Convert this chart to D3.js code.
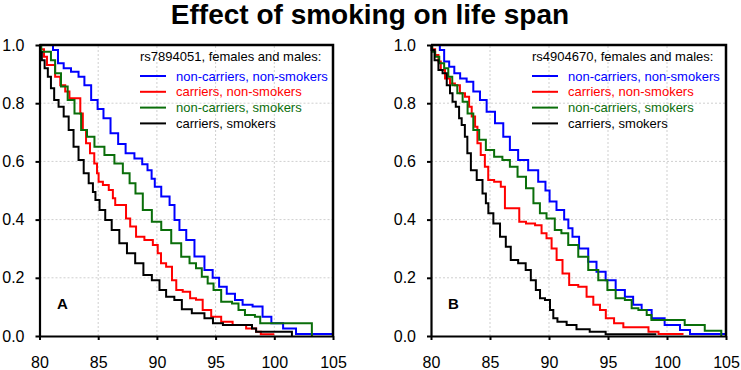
<!DOCTYPE html>
<html>
<head>
<meta charset="utf-8">
<script src="https://cdn.jsdelivr.net/npm/d3@7"></script>
<style>
html,body{margin:0;padding:0;background:#fff;}
svg{display:block;font-family:"Liberation Sans",Arial,sans-serif;}
</style>
</head>
<body>
<svg id="chart" width="741" height="370"></svg>
<script>
// ---------- data ----------
const title = "Effect of smoking on life span";
const xTicks = [80, 85, 90, 95, 100, 105];
const yTicks = [0, 0.2, 0.4, 0.6, 0.8, 1.0];
const seriesNames = ["non-carriers, non-smokers", "carriers, non-smokers", "non-carriers, smokers", "carriers, smokers"];
const seriesColors = ["#0000ff", "#ff0000", "#0a6e0a", "#000000"];
const panelLabels = ["A", "B"];
const panelHeaders = ["rs7894051, females and males:", "rs4904670, females and males:"];

// Panel A (age, survival)
const aNonCarNonSmk = [[80,1],[81,1],[81.3,0.983],[81.85,0.937],[82.27,0.92],[83.1,0.908],[83.55,0.891],[84.1,0.862],[84.7,0.811],[85.2,0.78],[85.7,0.748],[86.4,0.697],[87.0,0.66],[87.67,0.628],[88.5,0.61],[89.0,0.59],[89.4,0.57],[89.7,0.54],[89.94,0.513],[90.8,0.479],[91.36,0.45],[91.64,0.399],[92.2,0.364],[92.8,0.33],[93.6,0.273],[94.5,0.227],[95.0,0.2],[95.6,0.169],[96.3,0.145],[97.0,0.124],[97.6,0.107],[98.7,0.101],[99.3,0.066],[100.2,0.044],[101.3,0.026],[102.4,0.007],[105,0.007]];
const aCarNonSmk = [[80,1],[80.2,0.985],[80.57,0.96],[80.7,0.931],[81.1,0.931],[81.56,0.891],[81.98,0.862],[82.4,0.84],[82.7,0.817],[83.4,0.817],[83.55,0.765],[83.83,0.708],[84.1,0.662],[84.5,0.628],[84.83,0.593],[84.97,0.559],[85.1,0.53],[85.7,0.519],[86.1,0.502],[86.4,0.473],[86.5,0.45],[87.24,0.45],[87.5,0.404],[87.95,0.376],[88.5,0.341],[89.37,0.33],[89.94,0.313],[90.2,0.284],[90.5,0.25],[91.07,0.238],[91.5,0.192],[91.8,0.158],[92.6,0.152],[93.06,0.13],[93.6,0.125],[94.2,0.089],[95.05,0.066],[95.9,0.049],[97.0,0.038],[98.2,0.026],[98.7,0.015],[99.0,0.006],[100.0,0.006]];
const aNonCarSmk = [[80,1],[80.3,0.977],[80.85,0.977],[81.1,0.948],[81.56,0.903],[82.1,0.857],[82.7,0.811],[83.26,0.765],[83.83,0.708],[84.26,0.685],[85.1,0.65],[85.96,0.622],[86.8,0.593],[87.4,0.559],[87.95,0.525],[88.4,0.49],[89.2,0.433],[89.94,0.393],[90.8,0.364],[91.64,0.319],[92.5,0.272],[93.06,0.25],[93.6,0.233],[94.05,0.204],[94.6,0.18],[95.05,0.158],[95.9,0.118],[96.9,0.112],[97.0,0.089],[98.0,0.072],[98.7,0.066],[98.9,0.044],[103.2,0.044],[103.2,0]];
const aCarSmk = [[80,1],[80.1,0.975],[80.3,0.948],[80.57,0.92],[80.85,0.891],[81.1,0.851],[81.4,0.811],[81.85,0.788],[82.27,0.754],[82.7,0.708],[83.1,0.65],[83.55,0.605],[83.98,0.559],[84.4,0.525],[84.7,0.495],[84.83,0.467],[85.4,0.433],[85.8,0.399],[86.5,0.364],[87.1,0.319],[87.8,0.284],[88.5,0.25],[89.2,0.21],[89.94,0.192],[90.5,0.158],[91.07,0.135],[91.9,0.124],[92.35,0.092],[93.6,0.078],[94.5,0.061],[95.05,0.044],[96.2,0.038],[98.0,0.038],[98.2,0.026],[98.7,0.015],[101.5,0.015],[101.5,0]];

// Panel B (age, survival)
const bNonCarNonSmk = [[80,1],[80.6,1],[80.9,0.983],[81.33,0.943],[81.75,0.925],[82.2,0.903],[82.74,0.885],[83.3,0.874],[83.87,0.84],[84.43,0.811],[85.0,0.771],[85.85,0.731],[86.4,0.685],[86.97,0.639],[87.8,0.605],[88.67,0.57],[89.5,0.53],[89.9,0.5],[90.2,0.462],[91.07,0.433],[91.5,0.4],[91.78,0.37],[92.2,0.341],[92.9,0.301],[93.75,0.255],[94.3,0.221],[95.3,0.192],[96.0,0.158],[96.86,0.135],[97.4,0.107],[98.3,0.089],[99.1,0.061],[100.5,0.038],[101.7,0.021],[102.2,0.007],[105,0.007]];
const bCarNonSmk = [[80,1],[80.2,0.985],[80.5,0.966],[80.76,0.943],[80.9,0.914],[81.47,0.885],[81.75,0.868],[82.3,0.862],[82.6,0.834],[83.16,0.822],[83.3,0.788],[83.6,0.754],[83.87,0.719],[84.0,0.662],[84.43,0.622],[84.7,0.582],[85.0,0.536],[85.7,0.53],[86.13,0.513],[86.4,0.439],[87.26,0.439],[87.7,0.393],[88.4,0.387],[89.24,0.381],[89.5,0.353],[90.08,0.336],[90.36,0.301],[90.93,0.261],[91.36,0.215],[92.06,0.175],[92.9,0.169],[93.47,0.135],[94.04,0.107],[94.6,0.089],[95.03,0.061],[96.0,0.044],[96.6,0.03],[98.3,0.03],[98.56,0.015],[100.0,0.007],[101.4,0.007]];
const bNonCarSmk = [[80,1],[80.2,0.977],[80.5,0.96],[80.9,0.937],[81.33,0.92],[81.6,0.891],[82.0,0.862],[82.46,0.834],[82.9,0.805],[83.3,0.765],[83.87,0.708],[84.3,0.674],[85.0,0.639],[85.7,0.616],[86.4,0.605],[86.97,0.582],[87.7,0.547],[88.4,0.508],[88.96,0.456],[89.5,0.422],[90.08,0.404],[90.9,0.364],[91.2,0.353],[92.06,0.313],[92.9,0.272],[93.75,0.227],[94.6,0.192],[95.3,0.158],[96.0,0.13],[96.86,0.124],[97.15,0.095],[98.0,0.089],[98.56,0.072],[98.8,0.055],[101.5,0.055],[101.5,0.038],[103.2,0.038],[103.2,0.018],[104.6,0.018],[104.6,0]];
const bCarSmk = [[80,1],[80.1,0.983],[80.5,0.948],[80.76,0.914],[81.2,0.903],[81.47,0.862],[81.75,0.834],[81.9,0.805],[82.3,0.788],[82.46,0.748],[82.74,0.725],[83.0,0.685],[83.16,0.628],[83.6,0.57],[84.15,0.536],[84.58,0.49],[84.72,0.456],[85.0,0.422],[85.57,0.387],[86.13,0.341],[86.55,0.307],[86.97,0.261],[87.8,0.25],[88.25,0.227],[88.67,0.192],[89.1,0.158],[89.38,0.13],[89.94,0.124],[90.23,0.089],[90.5,0.061],[90.93,0.049],[92.06,0.038],[92.6,0.023],[94.3,0.015],[95.3,0.006],[99.1,0.006]];

const panelSeries = [
  [aNonCarNonSmk, aCarNonSmk, aNonCarSmk, aCarSmk],
  [bNonCarNonSmk, bCarNonSmk, bNonCarSmk, bCarSmk]
];

// ---------- layout ----------
const svg = d3.select("#chart");
const panelBoxes = [
  {x0: 39.5, x1: 333, y0: 336, y1: 45, legX: 140, labX: 57},
  {x0: 431, x1: 726, y0: 336, y1: 45, legX: 532, labX: 448}
];

svg.append("text")
  .attr("x", 370).attr("y", 24)
  .attr("text-anchor", "middle")
  .attr("font-size", 28).attr("font-weight", "bold")
  .text(title);

panelBoxes.forEach((b, pi) => {
  const x = d3.scaleLinear().domain([80, 105]).range([b.x0, b.x1]);
  const y = d3.scaleLinear().domain([0, 1]).range([b.y0, b.y1]);
  const g = svg.append("g");

  // grid
  g.selectAll(".gx").data(xTicks.slice(1, -1)).join("line")
    .attr("x1", d => x(d)).attr("x2", d => x(d))
    .attr("y1", y(0)).attr("y2", y(1))
    .attr("stroke", "#cfcfcf").attr("stroke-width", 1).attr("stroke-dasharray", "2,2");
  g.selectAll(".gy").data(yTicks.slice(1, -1)).join("line")
    .attr("x1", x(80)).attr("x2", x(105))
    .attr("y1", d => y(d)).attr("y2", d => y(d))
    .attr("stroke", "#cfcfcf").attr("stroke-width", 1).attr("stroke-dasharray", "2,2");

  // curves
  const line = d3.line().x(d => x(d[0])).y(d => y(d[1])).curve(d3.curveStep);
  panelSeries[pi].forEach((s, si) => {
    g.append("path").datum(s)
      .attr("d", line)
      .attr("fill", "none")
      .attr("stroke", seriesColors[si])
      .attr("stroke-width", 2);
  });

  // frame top & right
  g.append("path")
    .attr("d", `M${x(80)},${y(1)}H${x(105)}V${y(0)}`)
    .attr("fill", "none").attr("stroke", "#000").attr("stroke-width", 2.5);

  // axes
  const xa = g.append("g").attr("transform", `translate(0,${y(0)})`)
    .call(d3.axisBottom(x).tickValues(xTicks).tickSize(4).tickSizeOuter(0).tickPadding(17));
  const ya = g.append("g").attr("transform", `translate(${x(80)},0)`)
    .call(d3.axisLeft(y).tickValues(yTicks).tickFormat(d3.format(".1f")).tickSize(4).tickSizeOuter(0).tickPadding(11));
  [xa, ya].forEach(a => {
    a.select(".domain").attr("stroke-width", 2.2);
    a.selectAll(".tick line").attr("stroke-width", 2);
    a.selectAll("text").attr("font-size", 16).attr("fill", "#000")
      .attr("font-family", "'Liberation Sans',Arial,sans-serif");
  });

  // legend
  g.append("text").attr("x", b.legX).attr("y", 60.5)
    .attr("font-size", 13).attr("fill", "#000").text(panelHeaders[pi]);
  seriesNames.forEach((n, si) => {
    const cy = 76 + si * 15.8;
    g.append("line").attr("x1", b.legX).attr("x2", b.legX + 26)
      .attr("y1", cy).attr("y2", cy)
      .attr("stroke", seriesColors[si]).attr("stroke-width", 2);
    g.append("text").attr("x", b.legX + 36).attr("y", cy + 4.6)
      .attr("font-size", 13).attr("fill", seriesColors[si]).text(n);
  });

  // panel label
  g.append("text").attr("x", b.labX).attr("y", 309)
    .attr("font-size", 15).attr("font-weight", "bold").text(panelLabels[pi]);
});
</script>
</body>
</html>
